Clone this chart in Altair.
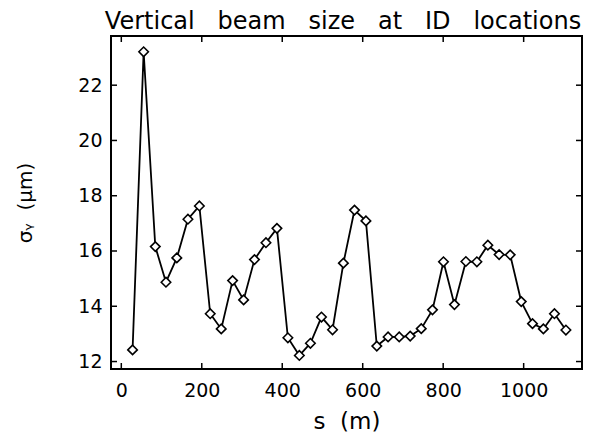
import altair as alt
import pandas as pd

# Data
s_pos = [28, 55.5, 84.5, 111, 138, 165.6, 194, 221, 248.4, 276.6, 304, 331, 359.5,
         386.8, 414, 442.5, 470, 497.5, 525, 552, 579.6, 608, 635, 663, 690.7, 718,
         745.5, 773.4, 800.7, 828, 856.4, 883.7, 911, 939, 966.5, 994, 1022, 1049,
         1076.5, 1105]
sigma_y = [12.42, 23.21, 16.16, 14.87, 15.75, 17.15, 17.63, 13.73, 13.18, 14.93,
           14.23, 15.69, 16.30, 16.82, 12.86, 12.22, 12.66, 13.61, 13.15, 15.56,
           17.48, 17.09, 12.56, 12.89, 12.89, 12.92, 13.19, 13.87, 15.61, 14.06,
           15.62, 15.61, 16.21, 15.87, 15.86, 14.17, 13.37, 13.18, 13.73, 13.14]
x_ticks = [0, 200, 400, 600, 800, 1000]
y_ticks = [12, 14, 16, 18, 20, 22]

W, H = 471, 333
FONT = "DejaVu Sans"
NB = "\u00a0"
title_text = NB.join(["Vertical", "", "", "beam", "", "", "size", "", "", "at", "", "", "ID", "", "", "locations"])

df = pd.DataFrame({"s": s_pos, "sigma": sigma_y})
dfx = pd.DataFrame({"t": x_ticks})
dfy = pd.DataFrame({"t": y_ticks})
dft = pd.DataFrame({"label": [title_text]})

xscale = alt.Scale(domain=[-25.6, 1145], nice=False, zero=False)
yscale = alt.Scale(domain=[11.73, 23.78], nice=False, zero=False)

xaxis = alt.Axis(values=x_ticks, format="d", ticks=False, domain=False, grid=False,
                 labelFont=FONT, labelFontSize=19, labelColor="black", labelPadding=12,
                 title=f"s{NB}{NB}(m)", titleFont=FONT, titleFontSize=23,
                 titleFontWeight="normal", titleColor="black",
                 titleX=W / 2, titleY=59, titleBaseline="alphabetic", titleAlign="center")
yaxis = alt.Axis(values=y_ticks, format="d", ticks=False, domain=False, grid=False,
                 labelFont=FONT, labelFontSize=19, labelColor="black", labelPadding=9,
                 title=f"σᵧ{NB}{NB}(μm)", titleFont=FONT, titleFontSize=20,
                 titleFontWeight="normal", titleColor="black",
                 titleX=-86, titleY=H / 2, titleAngle=270,
                 titleBaseline="middle", titleAlign="center")

line = alt.Chart(df).mark_line(color="black", strokeWidth=1.8).encode(
    x=alt.X("s:Q", scale=xscale, axis=xaxis),
    y=alt.Y("sigma:Q", scale=yscale, axis=yaxis),
)
pts = alt.Chart(df).mark_point(shape="diamond", size=90, filled=False, fill="white",
                               fillOpacity=1, stroke="black", strokeWidth=1.6,
                               opacity=1).encode(
    x=alt.X("s:Q", scale=xscale),
    y=alt.Y("sigma:Q", scale=yscale),
)

TL = 6
xt_bot = alt.Chart(dfx).mark_rule(color="black", strokeWidth=1.5).encode(
    x=alt.X("t:Q", scale=xscale), y=alt.value(H), y2=alt.value(H - TL))
xt_top = alt.Chart(dfx).mark_rule(color="black", strokeWidth=1.5).encode(
    x=alt.X("t:Q", scale=xscale), y=alt.value(0), y2=alt.value(TL))
yt_left = alt.Chart(dfy).mark_rule(color="black", strokeWidth=1.5).encode(
    y=alt.Y("t:Q", scale=yscale), x=alt.value(0), x2=alt.value(TL))
yt_right = alt.Chart(dfy).mark_rule(color="black", strokeWidth=1.5).encode(
    y=alt.Y("t:Q", scale=yscale), x=alt.value(W), x2=alt.value(W - TL))

title = alt.Chart(dft).mark_text(font=FONT, fontSize=24, color="black", align="center",
                                 baseline="alphabetic").encode(
    text="label:N", x=alt.value(232), y=alt.value(-7))

chart = alt.layer(line, pts, xt_bot, xt_top, yt_left, yt_right, title).properties(
    width=W, height=H,
    background="white",
    autosize=alt.AutoSizeParams(type="none"),
    padding={"left": 111, "top": 36, "right": 8, "bottom": 68},
).configure_view(stroke="black", strokeWidth=2)

chart.save("out.html", embed_options={"renderer": "svg", "actions": False})
